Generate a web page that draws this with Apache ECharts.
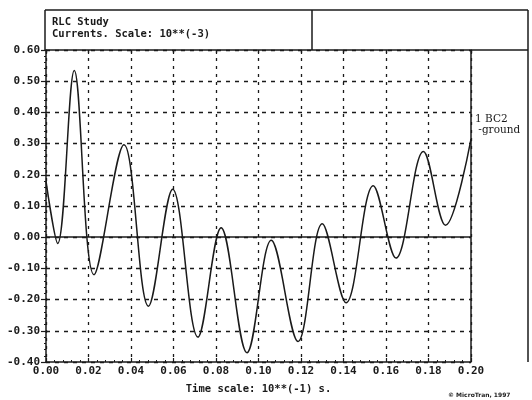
<!DOCTYPE html>
<html><head><meta charset="utf-8">
<script src="https://cdn.jsdelivr.net/npm/echarts@6/dist/echarts.min.js"></script>
<style>html,body{margin:0;padding:0;background:#fff}#c{width:532px;height:400px}</style>
</head><body><div id="c"></div>
<script>
// Turning points of the current waveform
// time (x10^-1 s) and current (x10^-3)
const times = [0, 0.0055, 0.0133, 0.0226, 0.0367, 0.0482, 0.0596, 0.0715, 0.0824,
  0.0946, 0.106, 0.1186, 0.130, 0.1412, 0.154, 0.1647, 0.1776, 0.188, 0.20];
const currents = [0.18, -0.02, 0.534, -0.12, 0.296, -0.221, 0.154, -0.32, 0.03,
  -0.37, -0.01, -0.334, 0.043, -0.21, 0.165, -0.067, 0.275, 0.038, 0.314];
const titleLines = ['RLC Study', 'Currents. Scale: 10**(-3)'];
const legendLines = ['1 BC2', ' -ground'];
const xAxisName = 'Time scale: 10**(-1) s.';
const credit = '\u00A9 MicroTran, 1997';

const mono = 'DejaVu Sans Mono';
const ink = '#1a1a1a';
const chart = echarts.init(document.getElementById('c'));
const L = 46, R = 471, T = 50, B = 362;
chart.setOption({
  backgroundColor: '#fff',
  animation: false,
  grid: { left: L, right: 532 - R, top: T, bottom: 400 - B },
  xAxis: [{
    type: 'value', min: 0, max: 0.2, interval: 0.02,
    name: xAxisName, nameLocation: 'middle', nameGap: 22,
    nameTextStyle: { fontFamily: mono, fontWeight: 'bold', fontSize: 10.5, color: ink },
    axisLine: { show: true, onZero: false, lineStyle: { color: ink, width: 1.5 } },
    axisTick: { show: true, inside: true, length: 4, lineStyle: { color: ink, width: 1.2 } },
    minorTick: { show: true, splitNumber: 5, length: 2, lineStyle: { color: ink } },
    axisLabel: { margin: 4, fontFamily: mono, fontWeight: 'bold', fontSize: 11, color: ink,
      formatter: v => v.toFixed(2), showMaxLabel: true, showMinLabel: true },
    splitLine: { show: true, lineStyle: { color: ink, type: [3, 5], width: 1.3 } }
  }, {
    type: 'value', min: 0, max: 0.2, interval: 0.02, position: 'top',
    axisLine: { show: true, onZero: false, lineStyle: { color: ink, width: 1.5 } },
    axisTick: { show: true, inside: true, length: 4, lineStyle: { color: ink, width: 1.2 } },
    axisLabel: { show: false }, splitLine: { show: false }
  }],
  yAxis: {
    type: 'value', min: -0.4, max: 0.6, interval: 0.1,
    axisLine: { show: true, onZero: false, lineStyle: { color: ink, width: 1.5 } },
    axisTick: { show: true, inside: false, length: 5, lineStyle: { color: ink, width: 1.2 } },
    minorTick: { show: true, splitNumber: 5, length: 2, lineStyle: { color: ink } },
    axisLabel: { margin: 6, fontFamily: mono, fontWeight: 'bold', fontSize: 11, color: ink,
      formatter: v => v.toFixed(2) },
    splitLine: { show: true, lineStyle: { color: ink, type: [4, 5], width: 1.3 } }
  },
  series: [{
    type: 'line', xAxisIndex: 0,
    data: times.map((t, i) => [t, currents[i]]),
    smooth: 0.36, showSymbol: false, symbol: 'none',
    lineStyle: { color: ink, width: 1.5 },
    markLine: { silent: true, symbol: 'none', label: { show: false },
      lineStyle: { color: ink, type: 'solid', width: 1.5 }, data: [{ yAxis: 0 }] }
  }],
  graphic: [
    { type: 'line', shape: { x1: 45, y1: 10, x2: 528, y2: 10 }, style: { stroke: ink, lineWidth: 1.5 } },
    { type: 'line', shape: { x1: 45, y1: 10, x2: 45, y2: 50 }, style: { stroke: ink, lineWidth: 1.5 } },
    { type: 'line', shape: { x1: 312, y1: 10, x2: 312, y2: 50 }, style: { stroke: ink, lineWidth: 1.5 } },
    { type: 'line', shape: { x1: 471, y1: 50, x2: 528, y2: 50 }, style: { stroke: ink, lineWidth: 1.5 } },
    { type: 'line', shape: { x1: 471, y1: 50, x2: 471, y2: 362 }, style: { stroke: ink, lineWidth: 1.5 } },
    { type: 'line', shape: { x1: 528, y1: 10, x2: 528, y2: 362 }, style: { stroke: ink, lineWidth: 1.5 } },
    { type: 'text', left: 52, top: 17, style: { text: titleLines[0], font: 'bold 10.5px ' + mono, fill: ink } },
    { type: 'text', left: 52, top: 29, style: { text: titleLines[1], font: 'bold 10.5px ' + mono, fill: ink } },
    { type: 'text', left: 475, top: 114, style: { text: legendLines[0], font: '10.5px "DejaVu Serif"', fill: ink } },
    { type: 'text', left: 475, top: 125, style: { text: legendLines[1], font: '10.5px "DejaVu Serif"', fill: ink } },
    { type: 'text', left: 448, top: 392, style: { text: credit, font: 'bold 6px "DejaVu Sans"', fill: ink } }
  ]
});
</script></body></html>
